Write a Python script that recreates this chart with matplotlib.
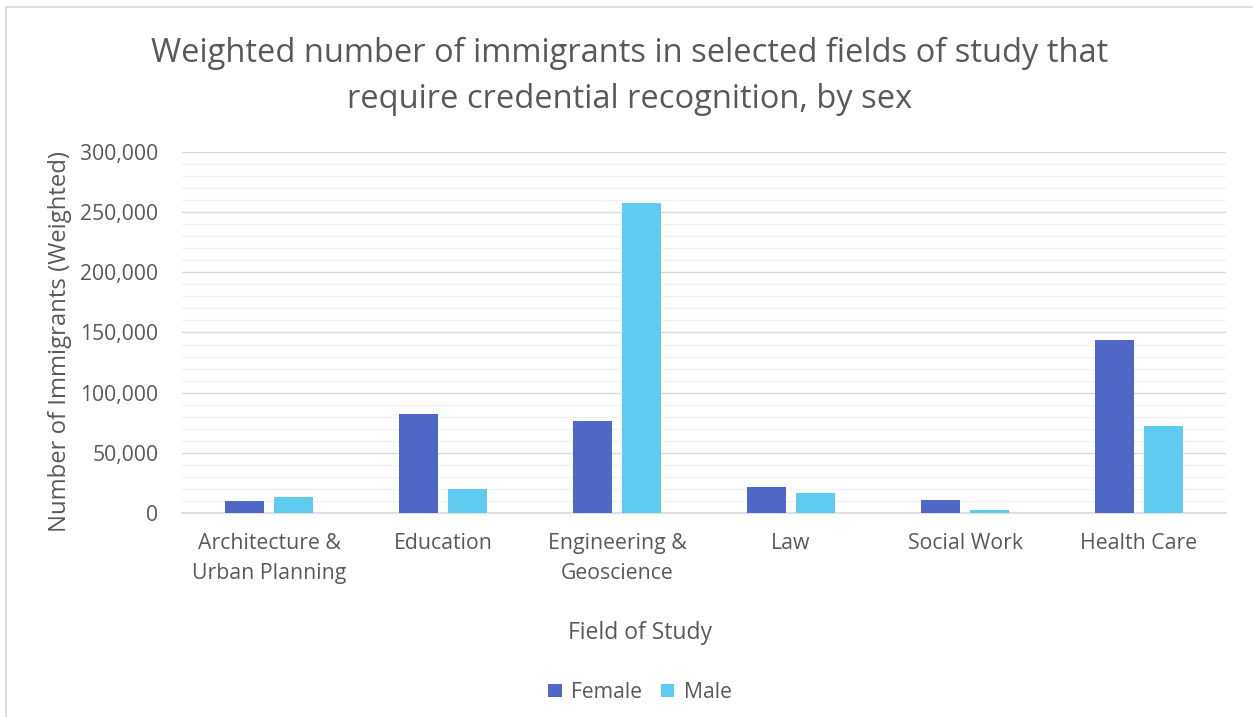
import matplotlib
matplotlib.use("Agg")
import matplotlib.pyplot as plt
from matplotlib.patches import Rectangle
from matplotlib.ticker import FuncFormatter, MultipleLocator

# Data
categories = ["Architecture &\nUrban Planning", "Education", "Engineering &\nGeoscience",
              "Law", "Social Work", "Health Care"]
female = [10200, 82100, 76600, 21800, 10800, 143800]
male = [13300, 19900, 257500, 16800, 2500, 72400]
series_names = ["Female", "Male"]

title = "Weighted number of immigrants in selected fields of study that\nrequire credential recognition, by sex"
x_label = "Field of Study"
y_label = "Number of Immigrants (Weighted)"

FEMALE_COLOR = "#4F68C8"
MALE_COLOR = "#5FCBF1"
TEXT_COLOR = "#595959"

plt.rcParams["font.family"] = ["Open Sans", "DejaVu Sans"]

W, H = 1253, 717
fig = plt.figure(figsize=(W / 100, H / 100), dpi=100)
fig.patch.set_facecolor("white")

# chart frame
fig.patches.append(Rectangle((6 / W, -0.1), 1.2, (717 - 7) / H + 0.1,
                             transform=fig.transFigure, fill=False,
                             edgecolor="#D9D9D9", linewidth=1.2))

left, right, top, bottom = 182, 1226, 151.7, 513.3
ax = fig.add_axes([left / W, (H - bottom) / H, (right - left) / W, (bottom - top) / H])

x = list(range(len(categories)))
bw = 0.224
off = 0.143
ax.bar([i - off for i in x], female, width=bw, color=FEMALE_COLOR, label=series_names[0], zorder=3)
ax.bar([i + off for i in x], male, width=bw, color=MALE_COLOR, label=series_names[1], zorder=3)

ax.set_xlim(-0.5, len(categories) - 0.5)
ax.set_ylim(0, 300000)
ax.yaxis.set_major_locator(MultipleLocator(50000))
ax.yaxis.set_minor_locator(MultipleLocator(10000))
ax.yaxis.set_major_formatter(FuncFormatter(lambda v, p: f"{int(v):,}"))
ax.grid(axis="y", which="major", color="#D9D9D9", linewidth=1.0, zorder=0)
ax.grid(axis="y", which="minor", color="#F2F2F2", linewidth=1.0, zorder=0)
ax.set_axisbelow(True)

for s in ["left", "right", "top"]:
    ax.spines[s].set_visible(False)
ax.spines["bottom"].set_color("#D9D9D9")
ax.spines["bottom"].set_linewidth(1.2)

ax.set_xticks(x)
ax.set_xticklabels(categories, fontsize=15.3, color=TEXT_COLOR, linespacing=1.55)
ax.tick_params(axis="x", length=0, pad=14.5)
ax.tick_params(axis="y", which="both", length=0, pad=17, labelsize=15.2, labelcolor=TEXT_COLOR)

fig.text(640 / W, 1 - 633 / H, x_label, ha="center", va="center", fontsize=16.5, color=TEXT_COLOR)
fig.text(60 / W, 1 - 342 / H, y_label, ha="center", va="center", rotation=90,
         fontsize=17.2, color=TEXT_COLOR)

fig.text(630 / W, 1 - 76.5 / H, title, ha="center", va="center", fontsize=23.5,
         color=TEXT_COLOR, linespacing=1.52)

leg = fig.legend(loc="center", bbox_to_anchor=(640 / W, 1 - 692.5 / H), ncol=2, frameon=False,
                 fontsize=15.2, handlelength=0.62, handleheight=0.62, handletextpad=0.45,
                 columnspacing=0.9)
for t in leg.get_texts():
    t.set_color(TEXT_COLOR)

fig.savefig("out.png", dpi=100, facecolor="white")
